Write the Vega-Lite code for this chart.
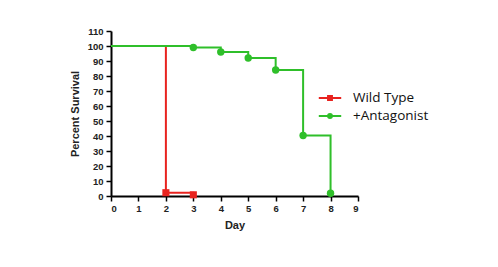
{
  "$schema": "https://vega.github.io/schema/vega-lite/v6.json",
  "width": 247,
  "height": 165,
  "autosize": "none",
  "padding": {"left": 111, "top": 31, "right": 140, "bottom": 71},
  "background": "white",
  "config": {
    "view": {"stroke": null},
    "axis": {
      "grid": false,
      "domainColor": "black",
      "domainWidth": 2,
      "tickColor": "black",
      "tickWidth": 1.5,
      "tickSize": 5,
      "labelFont": "Liberation Sans",
      "labelFontWeight": "bold",
      "labelFontSize": 9.5,
      "labelColor": "#222",
      "titleFont": "Liberation Sans",
      "titleFontWeight": "bold",
      "titleFontSize": 11,
      "titleColor": "#222"
    }
  },
  "data": {
    "values": [
      {"series": "Wild Type", "day": 0, "survival": 100, "marker": false},
      {"series": "Wild Type", "day": 2, "survival": 2.2, "marker": true},
      {"series": "Wild Type", "day": 3, "survival": 0.8, "marker": true},
      {"series": "+Antagonist", "day": 0, "survival": 100, "marker": false},
      {"series": "+Antagonist", "day": 3, "survival": 99, "marker": true},
      {"series": "+Antagonist", "day": 4, "survival": 96, "marker": true},
      {"series": "+Antagonist", "day": 5, "survival": 92, "marker": true},
      {"series": "+Antagonist", "day": 6, "survival": 84, "marker": true},
      {"series": "+Antagonist", "day": 7, "survival": 40.3, "marker": true},
      {"series": "+Antagonist", "day": 8, "survival": 1.8, "marker": true}
    ]
  },
  "encoding": {
    "x": {
      "field": "day", "type": "quantitative",
      "scale": {"domain": [0, 9], "nice": false},
      "axis": {"values": [0,1,2,3,4,5,6,7,8,9], "title": "Day", "labelPadding": 2, "titlePadding": 7}
    },
    "y": {
      "field": "survival", "type": "quantitative",
      "scale": {"domain": [0, 110], "nice": false},
      "axis": {"values": [0,10,20,30,40,50,60,70,80,90,100,110], "title": "Percent Survival", "labelPadding": 3, "titlePadding": 7}
    }
  },
  "layer": [
    {
      "transform": [{"filter": "datum.series == 'Wild Type'"}],
      "mark": {"type": "line", "interpolate": "step-after", "strokeWidth": 2, "color": "#e8231f"},
      "encoding": {}
    },
    {
      "transform": [{"filter": "datum.series == 'Wild Type' && datum.marker"}],
      "mark": {"type": "point", "shape": "square", "filled": true, "size": 50, "opacity": 1, "color": "#e8231f"},
      "encoding": {}
    },
    {
      "transform": [{"filter": "datum.series == '+Antagonist'"}],
      "mark": {"type": "line", "interpolate": "step-after", "strokeWidth": 2, "color": "#2fbf2a"},
      "encoding": {}
    },
    {
      "transform": [{"filter": "datum.series == '+Antagonist' && datum.marker"}],
      "mark": {"type": "point", "shape": "circle", "filled": true, "size": 55, "opacity": 1, "color": "#2fbf2a"},
      "encoding": {}
    },
    {
      "transform": [{"filter": "datum.day < 0"}],
      "mark": {"type": "point", "filled": true, "opacity": 1, "strokeWidth": 2, "size": 380},
      "encoding": {
        "color": {
          "field": "series", "type": "nominal",
          "scale": {"domain": ["Wild Type", "+Antagonist"], "range": ["#e8231f", "#2fbf2a"]},
          "legend": {
            "title": null, "orient": "none", "legendX": 208, "legendY": 56,
            "symbolSize": 380, "symbolStrokeWidth": 2,
            "labelFont": "Open Sans", "labelFontSize": 13.5, "labelColor": "#111",
            "rowPadding": -1, "labelOffset": 12
          }
        },
        "stroke": {
          "field": "series", "type": "nominal",
          "scale": {"domain": ["Wild Type", "+Antagonist"], "range": ["#e8231f", "#2fbf2a"]}
        },
        "shape": {
          "field": "series", "type": "nominal",
          "scale": {"domain": ["Wild Type", "+Antagonist"], "range": ["M-1.15,0H1.15M-0.2,-0.2H0.2V0.2H-0.2Z", "M-1.15,0H1.15M0.2,0A0.2,0.2 0 1,1 -0.2,0A0.2,0.2 0 1,1 0.2,0Z"]}
        }
      }
    }
  ]
}
